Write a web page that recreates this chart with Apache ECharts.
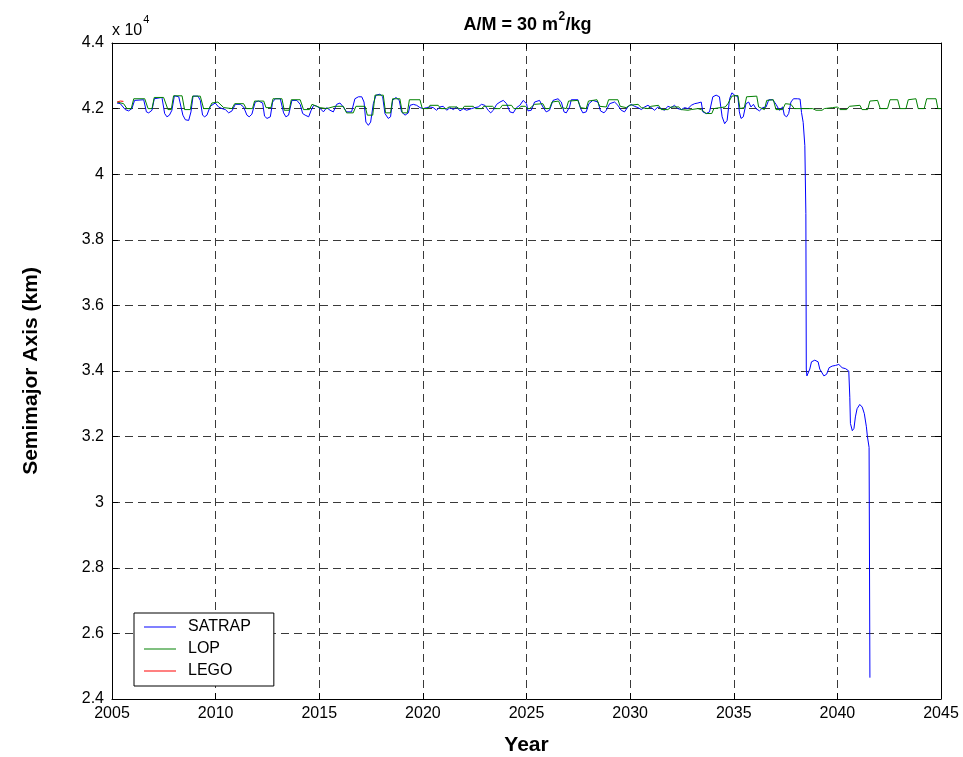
<!DOCTYPE html>
<html>
<head>
<meta charset="utf-8">
<script src="https://cdn.jsdelivr.net/npm/echarts@6/dist/echarts.min.js"></script>
<style>html,body{margin:0;padding:0;background:#fff}#c{width:963px;height:757px}</style>
</head>
<body>
<div id="c"></div>
<script>
const FONT = "'Liberation Sans', Arial, Helvetica, sans-serif";
const titleParts = ['A/M = 30 m', '2', '/kg'];
const scaleParts = ['x 10', '4'];
const xName = 'Year';
const yName = 'Semimajor Axis (km)';
const seriesNames = ['SATRAP', 'LOP', 'LEGO'];

// SATRAP (blue) — year, km
const satrapYears = [2005.24,2005.40,2005.64,2005.80,2005.96,2006.09,2006.53,2006.66,2006.77,2006.93,2007.04,2007.41,2007.54,2007.65,2007.77,2007.89,2008.01,2008.22,2008.42,2008.54,2008.70,2008.81,2008.91,2009.15,2009.26,2009.37,2009.47,2009.58,2009.66,2009.74,2009.82,2009.98,2010.14,2010.31,2010.47,2010.63,2010.79,2010.95,2011.19,2011.35,2011.51,2011.62,2011.75,2011.91,2012.07,2012.27,2012.36,2012.48,2012.64,2012.75,2012.88,2013.12,2013.28,2013.39,2013.52,2013.68,2013.92,2014.08,2014.20,2014.32,2014.49,2014.61,2014.73,2014.89,2015.05,
2015.20,2015.36,2015.52,2015.68,2015.84,2016.00,2016.16,2016.32,2016.56,2016.72,2016.89,2017.05,2017.16,2017.25,2017.37,2017.48,2017.61,2017.74,2017.93,2018.06,2018.17,2018.33,2018.44,2018.54,2018.70,2018.86,2018.97,2019.14,2019.30,2019.38,2019.54,2019.70,2019.86,2020.02,2020.18,2020.34,2020.50,2020.66,2020.82,2020.98,2021.15,2021.31,2021.47,2021.63,2021.79,2021.95,2022.11,2022.35,2022.51,2022.67,2022.83,2022.99,2023.15,2023.27,2023.40,2023.56,2023.72,2023.88,2024.04,2024.20,2024.36,2024.52,2024.68,2024.84,2025.00,
2025.07,2025.23,2025.39,2025.63,2025.79,2025.95,2026.11,2026.28,2026.52,2026.68,2026.81,2026.92,2027.08,2027.16,2027.48,2027.61,2027.72,2027.88,2028.01,2028.20,2028.45,2028.57,2028.74,2028.85,2029.01,2029.25,2029.41,2029.57,2029.73,2029.89,2030.05,2030.21,2030.38,2030.54,2030.70,2030.86,2031.02,2031.18,2031.34,2031.50,2031.66,2031.82,2031.98,2032.14,2032.30,2032.47,2032.63,2032.79,2032.95,2033.11,2033.27,2033.43,2033.51,2033.67,2033.83,2033.99,2034.15,2034.31,2034.44,2034.56,2034.68,2034.80,2034.91,2035.04,2035.20,
2035.27,2035.35,2035.46,2035.59,2035.72,2035.83,2035.95,2036.07,2036.24,2036.40,2036.56,2036.69,2036.88,2036.96,2037.04,2037.20,2037.36,2037.44,2037.55,2037.65,2037.76,2037.88,2038.08,2038.20,2038.27,2038.35,2038.43,2038.48,2038.50,2038.53,2038.60,2038.67,2038.75,2038.91,2039.07,2039.15,2039.35,2039.48,2039.60,2039.75,2039.91,2040.07,2040.23,2040.40,2040.55,2040.60,2040.63,2040.72,2040.80,2040.87,2040.95,2041.08,2041.20,2041.30,2041.40,2041.45,2041.53,2041.57];
const satrapKm = [42170,42150,41970,41930,42000,42250,42270,41900,41870,41950,42300,42340,41850,41750,41800,41950,42390,42360,41800,41660,41640,41900,42380,42380,42250,41800,41750,41800,41750,42070,42130,42170,42050,42000,41970,41870,41930,42130,42130,42050,41800,41750,41830,42200,42230,42170,41770,41700,41750,42200,42300,42300,41870,41750,41800,42250,42250,42130,41850,41800,41750,41950,42100,42070,42000,
41900,42030,41950,41900,42130,42170,42050,41900,41900,42300,42360,42360,42200,41590,41490,41590,42150,42410,42440,42360,41850,41700,41750,42250,42340,42250,41900,41800,41870,42100,42130,42100,42030,42000,42030,42050,42030,41950,42050,42070,41950,42030,41970,42050,41930,42000,41950,42000,42030,42050,42130,42100,41950,41870,41950,42130,42200,42250,42150,41900,41870,42030,42100,42250,42150,
41930,41950,42200,42250,42050,41900,41950,42250,42300,42200,41900,41870,42050,42270,42270,42000,41870,41900,42150,42250,42200,41930,41870,41950,42150,42200,42100,41950,41900,42050,42130,42070,42030,41970,42050,42100,42030,41950,42050,42000,41950,42070,42030,42100,42000,41970,42030,42000,42100,42150,42170,42200,41900,41850,41900,42360,42410,42360,41750,41540,41640,42300,42480,42410,42360,
41900,41700,41750,42150,42200,42050,42130,42000,41930,42030,42050,42270,42270,42200,42130,41950,42050,41800,41750,41850,42200,42300,42300,42290,41880,41580,40870,38800,34060,33850,33810,34060,34280,34330,34280,34060,33850,33900,34100,34150,34170,34200,34100,34070,34000,33200,32400,32180,32250,32600,32850,32980,32900,32700,32300,32000,31670,24650];

// LOP (green) — year, km
const lopYears = [2005.25,2005.32,2005.56,2005.72,2005.93,2006.05,2006.58,2006.74,2006.93,2007.04,2007.49,2007.70,2007.86,2007.97,2008.38,2008.50,2008.78,2008.89,2009.26,2009.42,2009.69,2009.82,2010.11,2010.39,2010.79,2010.92,2011.35,2011.48,2011.78,2011.88,2012.32,2012.43,2012.67,2012.77,2013.20,2013.31,2013.55,2013.65,2014.08,2014.24,2014.53,2014.65,2015.04,
2015.36,2015.76,2016.16,2016.32,2016.64,2016.77,2017.21,2017.32,2017.58,2017.69,2018.09,2018.20,2018.44,2018.54,2018.89,2019.01,2019.25,2019.35,2019.86,2019.97,2020.26,2020.34,2020.74,2020.86,2021.15,2021.26,2021.63,2021.74,2021.92,2022.00,2022.43,2022.54,2022.83,2022.95,2023.36,2023.48,2023.72,2023.83,2024.28,2024.39,2024.63,2024.73,2024.95,2025.05,
2025.15,2025.39,2025.79,2025.91,2026.11,2026.23,2026.55,2026.68,2026.92,2027.03,2027.48,2027.61,2027.88,2027.99,2028.40,2028.53,2028.85,2028.96,2029.41,2029.52,2029.81,2029.97,2030.38,2030.54,2030.86,2031.02,2031.37,2031.50,2031.82,2031.98,2032.34,2032.47,2032.79,2032.95,2033.27,2033.43,2033.67,2033.94,2034.04,2034.36,2034.59,2034.72,2034.91,2035.20,
2035.30,2035.51,2035.62,2036.11,2036.20,2036.48,2036.59,2036.91,2037.04,2037.36,2037.49,2037.76,2037.92,2038.24,2038.81,2038.97,2039.26,2039.37,2039.77,2040.01,2040.13,2040.45,2040.58,2041.09,2041.19,2041.46,2041.57,2041.94,2042.07,2042.42,2042.54,2042.91,2043.02,2043.31,2043.42,2043.79,2043.90,2044.19,2044.31,2044.76,2044.85,2045.00];
const lopKm = [42200,42200,42150,42000,42000,42300,42300,42000,42000,42340,42340,41970,41970,42390,42390,41970,41970,42380,42380,42000,42000,42170,42200,42030,42000,42150,42150,42000,42000,42230,42230,42030,42030,42300,42300,41950,41950,42270,42270,41970,41970,42130,42030,
42000,42070,42070,41870,41870,42070,42070,41800,41800,42410,42410,41870,41870,42300,42300,41870,41870,42270,42270,42000,42000,42100,42100,42000,42000,42050,42050,42000,42000,42070,42070,42000,42000,42070,42070,42000,42000,42100,42100,42000,42000,42070,42070,42000,
42000,42130,42150,42000,42000,42200,42230,42030,42000,42230,42250,42030,42000,42230,42270,42070,42050,42270,42270,42070,42030,42100,42130,42030,42000,42070,42100,41970,41970,42050,42050,41970,41950,41970,42000,41970,41850,41850,42000,42030,42050,42150,42380,42400,
42000,42030,42360,42380,42050,41970,42250,42270,41970,41970,42150,42130,42000,42000,42000,41950,41950,42000,42030,42050,41970,41970,42070,42100,41970,41970,42230,42250,42000,42000,42270,42270,42000,42000,42270,42300,42000,42000,42300,42300,42000,42000];

// LEGO (red) — year, km
const legoYears = [2005.25, 2005.40, 2005.55];
const legoKm = [42200, 42230, 42220];

const xTicks = { min: 2005, max: 2045, step: 5 };
const yTicks = { min: 24000, max: 44000, step: 2000 };

function zip(a, b) { return a.map((v, i) => [v, b[i]]); }
const mctx = document.createElement('canvas').getContext('2d');
function tw(text, font) { mctx.font = font; return mctx.measureText(text).width; }

const titleFont = 'bold 18px ' + FONT, titleSupFont = 'bold 12px ' + FONT;
const w1 = tw(titleParts[0], titleFont), w2 = tw(titleParts[1], titleSupFont), w3 = tw(titleParts[2], titleFont);
const tx0 = 527 - (w1 + w2 + w3) / 2;
const scaleFont = '16px ' + FONT, scaleSupFont = '11px ' + FONT;
const sw1 = tw(scaleParts[0], scaleFont);

const chart = echarts.init(document.getElementById('c'), null, { renderer: 'canvas' });
const gridDash = { color: '#3a3a3a', width: 1, type: [8, 5] };
const blackLine = { color: '#000', width: 1 };
const labelStyle = { color: '#000', fontSize: 16, fontFamily: FONT };
function gText(x, y, text, font) {
  return { type: 'text', x: x, y: y, z: 10, silent: true,
    style: { text: text, fill: '#000', font: font, align: 'left', verticalAlign: 'middle', textAlign: 'left', textVerticalAlign: 'middle' } };
}

chart.setOption({
  animation: false,
  backgroundColor: '#fff',
  grid: { left: 112, right: 22, top: 43, bottom: 58, containLabel: false, outerBoundsMode: 'none' },
  xAxis: [
    { type: 'value', min: xTicks.min, max: xTicks.max, interval: xTicks.step, position: 'bottom',
      axisLine: { show: true, onZero: false, lineStyle: blackLine },
      axisTick: { show: true, inside: true, length: 6, lineStyle: blackLine },
      axisLabel: Object.assign({ margin: 7, formatter: v => String(v) }, labelStyle),
      splitLine: { show: true, lineStyle: gridDash },
      name: xName, nameLocation: 'middle', nameGap: 36,
      nameTextStyle: { color: '#000', fontSize: 21, fontWeight: 'bold', fontFamily: FONT } },
    { type: 'value', min: xTicks.min, max: xTicks.max, interval: xTicks.step, position: 'top',
      axisLine: { show: true, onZero: false, lineStyle: blackLine },
      axisTick: { show: true, inside: true, length: 6, lineStyle: blackLine },
      axisLabel: { show: false }, splitLine: { show: false } }
  ],
  yAxis: [
    { type: 'value', min: yTicks.min, max: yTicks.max, interval: yTicks.step, position: 'left',
      axisLine: { show: true, onZero: false, lineStyle: blackLine },
      axisTick: { show: true, inside: true, length: 6, lineStyle: blackLine },
      axisLabel: Object.assign({ margin: 8, formatter: v => String(v / 10000) }, labelStyle),
      splitLine: { show: true, lineStyle: gridDash },
      name: yName, nameLocation: 'middle', nameGap: 70, nameRotate: 90,
      nameTextStyle: { color: '#000', fontSize: 21, fontWeight: 'bold', fontFamily: FONT } },
    { type: 'value', min: yTicks.min, max: yTicks.max, interval: yTicks.step, position: 'right',
      axisLine: { show: true, onZero: false, lineStyle: blackLine },
      axisTick: { show: true, inside: true, length: 6, lineStyle: blackLine },
      axisLabel: { show: false }, splitLine: { show: false } }
  ],
  legend: {
    data: seriesNames.map(n => ({ name: n, icon: 'rect' })),
    orient: 'vertical', left: 134, top: 613,
    itemWidth: 32, itemHeight: 1, itemGap: 6,
    padding: [6, 23, 7, 10],
    borderColor: '#000', borderWidth: 1, backgroundColor: '#fff',
    textStyle: { color: '#000', fontSize: 16, fontFamily: FONT, padding: [0, 0, 0, 7] }
  },
  graphic: [
    gText(tx0, 25, titleParts[0], titleFont),
    gText(tx0 + w1 + 0.5, 17, titleParts[1], titleSupFont),
    gText(tx0 + w1 + w2 + 1, 25, titleParts[2], titleFont),
    gText(112, 31, scaleParts[0], scaleFont),
    gText(112 + sw1 + 1, 20, scaleParts[1], scaleSupFont)
  ],
  series: [
    { name: seriesNames[0], type: 'line', data: zip(satrapYears, satrapKm), showSymbol: false, symbol: 'none',
      lineStyle: { color: '#0000ff', width: 1 }, itemStyle: { color: '#0000ff' } },
    { name: seriesNames[1], type: 'line', data: zip(lopYears, lopKm), showSymbol: false, symbol: 'none',
      lineStyle: { color: '#008000', width: 1 }, itemStyle: { color: '#008000' } },
    { name: seriesNames[2], type: 'line', data: zip(legoYears, legoKm), showSymbol: false, symbol: 'none',
      lineStyle: { color: '#ff0000', width: 1 }, itemStyle: { color: '#ff0000' } }
  ]
});
</script>
</body>
</html>
